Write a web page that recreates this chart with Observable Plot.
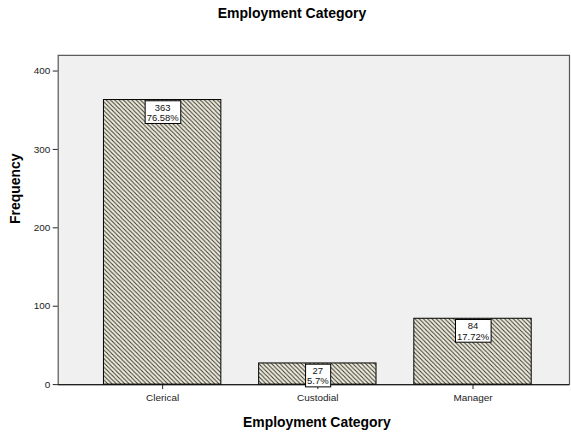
<!DOCTYPE html>
<html><head><meta charset="utf-8">
<script src="https://cdn.jsdelivr.net/npm/d3@7"></script>
<script src="https://cdn.jsdelivr.net/npm/@observablehq/plot@0.6"></script>
<style>
html,body{margin:0;padding:0;background:#fff;overflow:hidden;width:571px;height:432px}
#title{height:23px;padding-top:5px;line-height:30px;font:bold 14px "Liberation Sans",Arial,sans-serif;text-align:center;width:584px;color:#000;overflow:visible}
#chart svg{display:block;overflow:visible}
</style></head><body>
<div id="title">Employment Category</div>
<div id="chart"></div>
<script>
const categories = ["Clerical", "Custodial", "Manager"];
const counts = [363, 27, 84];
const percents = ["76.58%", "5.7%", "17.72%"];
const yTicks = [0, 100, 200, 300, 400];
const xLabel = "Employment Category";
const yLabel = "Frequency";

const data = categories.map((c, i) => ({category: c, count: counts[i], pct: percents[i]}));
const font = '"Liberation Sans", Arial, sans-serif';

const chart = Plot.plot({
  width: 574, height: 404,
  marginLeft: 58, marginRight: 2, marginTop: 27, marginBottom: 46,
  style: {fontFamily: font, color: "#222", background: "transparent", overflow: "visible"},
  x: {domain: categories, range: [58, 579], paddingInner: 0.246, paddingOuter: 0.2875, label: null},
  y: {domain: [0, 420], label: null},
  marks: [
    Plot.frame({fill: "#f0f0f0", stroke: "#555", strokeWidth: 1.2}),
    Plot.axisY({ticks: yTicks, tickSize: 5, tickPadding: 3, fontSize: 10, label: null}),
    Plot.axisX({tickSize: 5, tickPadding: 4, fontSize: 10, label: null}),
    Plot.ruleY([0], {stroke: "#222", strokeWidth: 1.2}),
    Plot.barY(data, {x: "category", y: "count", fill: "url(#hatch)", stroke: "#000", strokeWidth: 1}),
    Plot.text([xLabel], {frameAnchor: "bottom", lineAnchor: "middle", dy: 38, dx: 3, fontSize: 14, fontWeight: "bold", fill: "#000"}),
    Plot.text([yLabel], {frameAnchor: "left", lineAnchor: "middle", rotate: -90, dx: -43, dy: 4, fontSize: 14, fontWeight: "bold", fill: "#000"}),
    Plot.text(data, {x: "category", y: "count", text: d => d.count + "\n" + d.pct, lineAnchor: "top", dy: 3.5, fontSize: 9.5, lineHeight: 1.08, fill: "#111"})
  ]
});

document.getElementById("chart").append(chart);

// hatch pattern
const svg = d3.select(chart);
const defs = svg.insert("defs", ":first-child");
const pat = defs.append("pattern").attr("id", "hatch").attr("patternUnits", "userSpaceOnUse")
  .attr("width", 4.3).attr("height", 4.3);
pat.append("rect").attr("width", 4.3).attr("height", 4.3).attr("fill", "#eeebd8");
pat.append("path").attr("d", "M-1,-1L5.3,5.3M-1,3.3L1,5.3M3.3,-1L5.3,1").attr("stroke", "#333").attr("stroke-width", 0.95);

// label boxes
const groups = chart.querySelectorAll('g[aria-label="text"]');
const lblGroup = groups[groups.length - 1];
lblGroup.querySelectorAll("text").forEach(t => {
  const b = t.getBBox();
  const r = document.createElementNS("http://www.w3.org/2000/svg", "rect");
  r.setAttribute("x", b.x - 1.5);
  r.setAttribute("y", b.y - 1);
  r.setAttribute("width", b.width + 3);
  r.setAttribute("height", b.height + 1.5);
  r.setAttribute("fill", "#fff");
  r.setAttribute("stroke", "#000");
  r.setAttribute("stroke-width", 1);
  const tr = t.getAttribute("transform");
  if (tr) r.setAttribute("transform", tr);
  lblGroup.insertBefore(r, t);
});
</script>
</body></html>
